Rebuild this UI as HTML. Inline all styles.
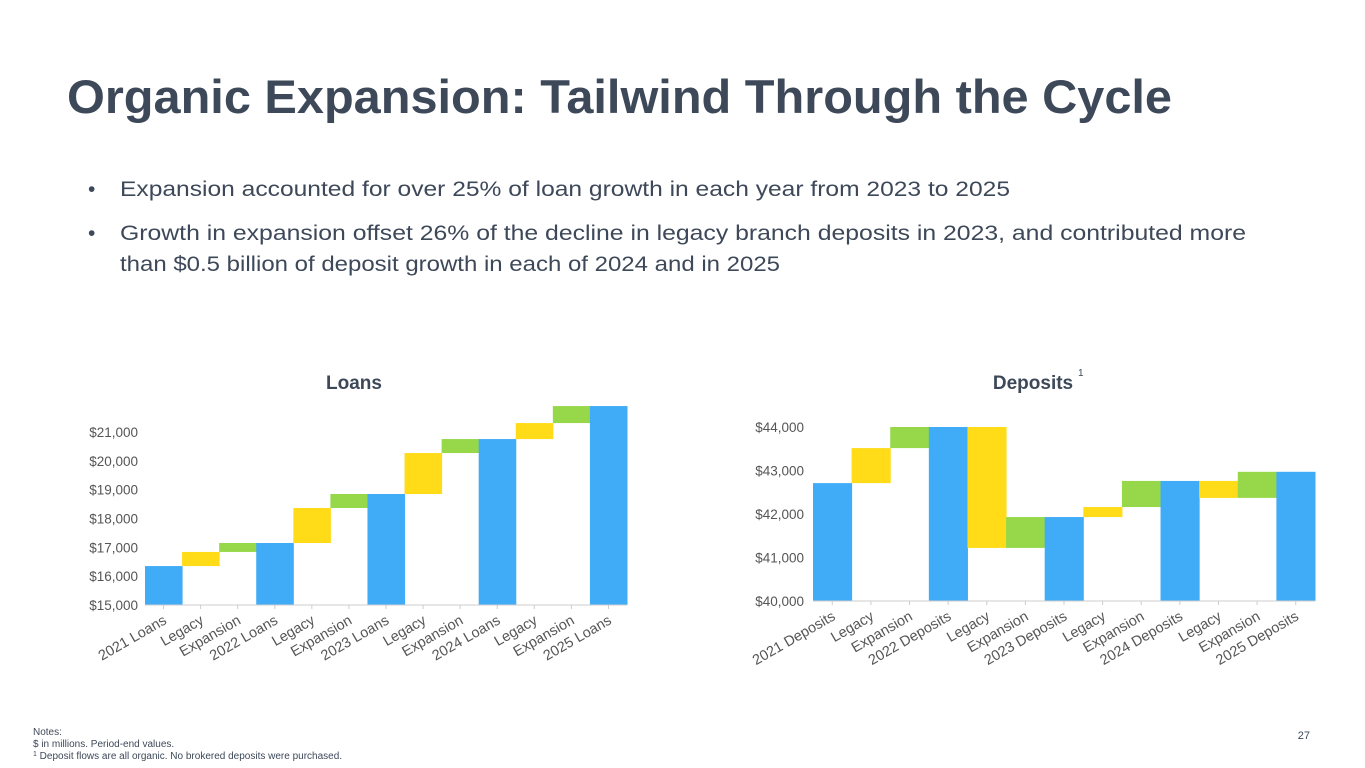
<!DOCTYPE html>
<html><head><meta charset="utf-8"><style>
html,body{margin:0;padding:0;background:#fff}
svg{display:block;font-family:"Liberation Sans",sans-serif}
</style></head><body>
<svg id="s" width="1365" height="768" viewBox="0 0 1365 768">
<text x="67" y="113" font-size="47" font-weight="bold" fill="#3d4859" textLength="1105" lengthAdjust="spacingAndGlyphs">Organic Expansion: Tailwind Through the Cycle</text>
<g fill="#3d4859" font-size="21">
<text x="88" y="196">•</text>
<text x="120" y="196" textLength="890" lengthAdjust="spacingAndGlyphs">Expansion accounted for over 25% of loan growth in each year from 2023 to 2025</text>
<text x="88" y="240">•</text>
<text x="120" y="240" textLength="1126" lengthAdjust="spacingAndGlyphs">Growth in expansion offset 26% of the decline in legacy branch deposits in 2023, and contributed more</text>
<text x="120" y="271" textLength="660" lengthAdjust="spacingAndGlyphs">than $0.5 billion of deposit growth in each of 2024 and in 2025</text>
</g>
<text x="354" y="389" font-size="19" font-weight="bold" fill="#3d4859" text-anchor="middle">Loans</text>
<text x="1033" y="389" font-size="19" font-weight="bold" fill="#3d4859" text-anchor="middle">Deposits</text>
<text x="1078" y="376" font-size="10" fill="#3d4859">1</text>
<g id="loans"></g>
<g id="deps"></g>
<g fill="#3d4859" font-size="10">
<text x="33" y="735">Notes:</text>
<text x="33" y="747">$ in millions. Period-end values.</text>
<text x="33" y="759"><tspan font-size="7" dy="-3">1</tspan><tspan dy="3"> Deposit flows are all organic. No brokered deposits were purchased.</tspan></text>
</g>
<text x="1310" y="739" font-size="11" fill="#3d4859" text-anchor="end">27</text>
</svg>
<script>
const loanCats=["2021 Loans","Legacy","Expansion","2022 Loans","Legacy","Expansion","2023 Loans","Legacy","Expansion","2024 Loans","Legacy","Expansion","2025 Loans"];
const loanValues=[16350,490,310,17150,1215,485,18850,1420,485,20755,555,590,21900];
const loanTicks=[15000,16000,17000,18000,19000,20000,21000];
const depCats=["2021 Deposits","Legacy","Expansion","2022 Deposits","Legacy","Expansion","2023 Deposits","Legacy","Expansion","2024 Deposits","Legacy","Expansion","2025 Deposits"];
const depValues=[42710,805,485,44000,-2780,710,41930,230,600,42760,-390,600,42970];
const depTicks=[40000,41000,42000,43000,44000];
const NS="http://www.w3.org/2000/svg";
const colors={total:"#40abf7",legacy:"#ffdc17",exp:"#96d84a"};
function mk(tag,attrs,parent){const e=document.createElementNS(NS,tag);for(const k in attrs)e.setAttribute(k,attrs[k]);parent.appendChild(e);return e;}
function draw(g,cats,vals,ticks,x0,x1,yMin,yMax,pyMin,pyMax,name,tickX){
  const y=v=>pyMin-(v-yMin)/(yMax-yMin)*(pyMin-pyMax);
  const bw=(x1-x0)/cats.length;
  const xb=i=>x0+i*bw;
  ticks.forEach(t=>{const tx=mk("text",{x:tickX,y:y(t)+5,"font-size":13.5,fill:"#555","text-anchor":"end"},g);tx.textContent="$"+t.toLocaleString("en-US");
    
    });
  let run=0;
  cats.forEach((c,i)=>{
    let lo,hi,col;
    if(i%3===0){run=vals[i];lo=yMin;hi=run;col=colors.total;}
    else{const prev=run;run=run+vals[i];lo=Math.min(prev,run);hi=Math.max(prev,run);col=(i%3===1)?colors.legacy:colors.exp;}
    const r=mk("rect",{x:xb(i),y:y(hi),width:bw+0.5,height:y(lo)-y(hi),fill:col},g);
    
    
    const cx=xb(i)+bw/2;
    mk("line",{x1:cx,x2:cx,y1:pyMin,y2:pyMin+4,stroke:"#ccc"},g);
    const lx=cx+4,ly=pyMin+18;
    const t=mk("text",{x:lx,y:ly,"font-size":14.5,fill:"#555","text-anchor":"end",transform:`rotate(-30 ${lx} ${ly})`},g);
    t.textContent=c;
    
    
  });
  const ax=mk("line",{x1:x0,x2:x1,y1:pyMin,y2:pyMin,stroke:"#ccc","stroke-width":1},g);
  
  
}
draw(document.getElementById("loans"),loanCats,loanValues,loanTicks,145,627,15000,21000,605,432,"loans",138);
draw(document.getElementById("deps"),depCats,depValues,depTicks,813,1315,40000,44000,601,427,"deposits",804);
</script>
</body></html>
